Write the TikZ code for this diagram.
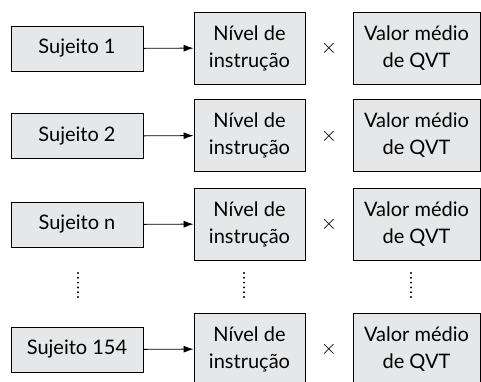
\documentclass[tikz,border=0pt]{standalone}
\usepackage{fontspec}
\setmainfont{Lato}
\usetikzlibrary{arrows.meta,positioning}
\definecolor{fundo}{HTML}{E6E7E8}
\tikzset{
	caixa/.style={draw=black, fill=fundo, line width=0.9pt, align=center, inner sep=0pt},
	sujeito/.style={caixa, minimum width=132pt, minimum height=45pt},
	nivel/.style={caixa, minimum width=111pt, minimum height=72pt},
	valor/.style={caixa, minimum width=127pt, minimum height=72pt},
	seta/.style={-{Latex[length=10pt,width=7pt]}, line width=0.9pt}
}

\begin{document}
\begin{tikzpicture}[x=1pt, y=-1pt, font=\fontsize{20pt}{27pt}\selectfont]
		\useasboundingbox (0,0) rectangle (481,382);
		\foreach \y/\s [count=\i] in {48.5/1, 136/2, 224.5/n, 349.5/154}{
			\node[sujeito] (s\i) at (77,\y) {Sujeito \s};
			\node[nivel] (niv\i) at (249.5,\y-0.5) {Nível de\\instrução};
			\node[valor] (val\i) at (416.5,\y-0.5) {Valor médio\\de QVT};
			\node (vezes\i) at (329,\y) {$\times$};
			\draw[seta] (s\i) -- (niv\i);
		}
		\foreach \x in {78, 244, 411}{
			\foreach \k in {0,...,5}
				\fill (\x, 273+4.8*\k) circle (1.1pt);
		}
	\end{tikzpicture}
\end{document}
